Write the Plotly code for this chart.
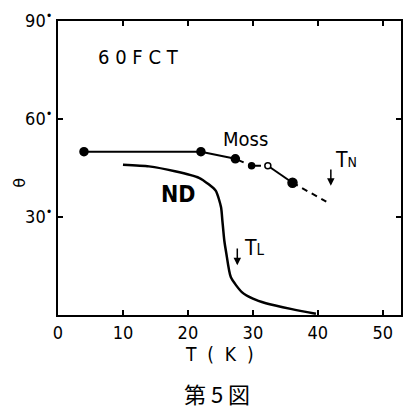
import plotly.graph_objects as go

# ---- data ----
moss_T = [4, 22, 27.3, 29.8, 32.3, 36.1]
moss_theta = [50, 50, 47.8, 45.7, 45.7, 40.5]
moss_open = [False, False, False, False, True, False]
moss_size = [8, 8, 8, 6, 6, 9]
moss_ext_T = [36.1, 41.3]
moss_ext_theta = [40.5, 34.7]

nd_T = [10, 14, 18, 21.7, 23.2, 24.3, 25.1, 25.3, 25.6, 25.9, 26.6, 28.3, 30, 32, 36, 39.7]
nd_theta = [46, 45.5, 44, 42, 40, 38, 33, 29, 22.8, 19, 11.6, 7, 5, 3.6, 1.8, 0.4]

x_ticks = [0, 10, 20, 30, 40, 50]
y_ticks = [30, 60, 90]
y_ticktext = ["30<sup>•</sup>", "60<sup>•</sup>", "90<sup>•</sup>"]

FONT = "Liberation Sans Narrow, DejaVu Sans Condensed, Arial Narrow, sans-serif"
INK = "#000000"

fig = go.Figure()

def seg(i0, i1, dash):
    fig.add_trace(go.Scatter(x=moss_T[i0:i1 + 1], y=moss_theta[i0:i1 + 1], mode="lines",
                             line=dict(color=INK, width=2, dash=dash), showlegend=False,
                             hoverinfo="skip"))

seg(0, 2, "solid")
seg(2, 4, "dash")
seg(4, 5, "solid")
fig.add_trace(go.Scatter(x=moss_ext_T, y=moss_ext_theta, mode="lines",
                         line=dict(color=INK, width=2, dash="6px,5px"), showlegend=False))

fig.add_trace(go.Scatter(
    x=moss_T, y=moss_theta, mode="markers",
    marker=dict(size=moss_size, opacity=1,
                color=["white" if o else INK for o in moss_open],
                symbol="circle",
                line=dict(color=INK, width=1.5)),
    showlegend=False))

fig.add_trace(go.Scatter(x=nd_T, y=nd_theta, mode="lines",
                         line=dict(color=INK, width=2.5, shape="spline", smoothing=0.6),
                         showlegend=False))

fig.update_xaxes(range=[0, 52.8], tickvals=x_ticks, ticks="inside", ticklen=5,
                 tickcolor=INK, tickwidth=1.5, showline=True, linecolor=INK, linewidth=2,
                 mirror="allticks", showgrid=False, zeroline=False,
                 tickfont=dict(family=FONT, size=18, color=INK))
fig.update_yaxes(range=[0, 90], tickvals=y_ticks, ticktext=y_ticktext, ticks="inside",
                 ticklen=5, tickcolor=INK, tickwidth=1.5, showline=True, linecolor=INK,
                 linewidth=2, mirror="allticks", showgrid=False, zeroline=False,
                 tickfont=dict(family=FONT, size=18, color=INK))

ann = [
    dict(x=12.4, y=79, text="6 0 F C T", font=dict(family=FONT, size=20)),
    dict(x=28.8, y=54, text="Moss", font=dict(family=FONT, size=20)),
    dict(x=18.5, y=37, text="<b>ND</b>", font=dict(family=FONT, size=23)),
    dict(x=44.3, y=47.5, text="T<span style='font-size:14px'>N</span>", font=dict(family=FONT, size=21)),
    dict(x=30.3, y=20.5, text="T<span style='font-size:15px'>L</span>", font=dict(family=FONT, size=21)),
]
annotations = []
for a in ann:
    a.setdefault("showarrow", False)
    a["font"]["color"] = INK
    a["xref"] = "x"
    a["yref"] = "y"
    annotations.append(a)

for (xa, y0, y1) in [(42.0, 45, 39.6), (27.6, 20.8, 15.2)]:
    annotations.append(dict(x=xa, y=y1, ax=xa, ay=y0, xref="x", yref="y", axref="x", ayref="y",
                            showarrow=True, arrowhead=2, arrowsize=1, arrowwidth=1.5,
                            arrowcolor=INK, text=""))

annotations.append(dict(x=0.472, y=-0.132, xref="paper", yref="paper", text="T  (  K  )",
                        xanchor="center", yanchor="middle", showarrow=False,
                        font=dict(family=FONT, size=19, color=INK)))
annotations.append(dict(x=-0.113, y=0.451, xref="paper", yref="paper", text="θ",
                        textangle=-90, xanchor="center", yanchor="middle", showarrow=False,
                        font=dict(family="DejaVu Sans", size=16, color=INK)))
annotations.append(dict(x=0.465, y=-0.265, xref="paper", yref="paper", text="第 5 図",
                        xanchor="center", yanchor="middle", showarrow=False,
                        font=dict(family="Noto Sans CJK JP", size=22, color=INK)))

fig.update_layout(width=411, height=412, margin=dict(l=58, r=8, t=20, b=97),
                  paper_bgcolor="white", plot_bgcolor="white", annotations=annotations,
                  showlegend=False)

fig.write_html("out.html")
